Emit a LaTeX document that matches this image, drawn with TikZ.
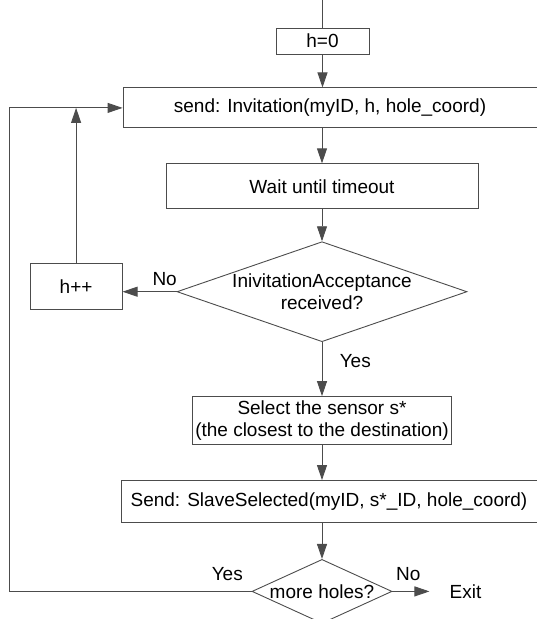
\documentclass[tikz,border=0pt]{standalone}
\usepackage{fontspec}
\setmainfont{Liberation Sans}
\usetikzlibrary{positioning, arrows.meta, shapes.geometric}
\tikzset{
  box/.style={draw=black!70, line width=0.9pt, rectangle, inner sep=3pt, align=center},
  decision/.style={draw=black!70, line width=0.9pt, diamond, inner sep=0pt, align=center},
  link/.style={draw=black!70, line width=0.9pt},
  flow/.style={link, -{Triangle[length=15pt,width=10pt]}}
}
\begin{document}
\begin{tikzpicture}[x=1pt, y=-1pt, node distance=35pt, font=\fontsize{19}{21.5}\selectfont]
\useasboundingbox (0,0) rectangle (536,619);
\coordinate (top) at (322.5,0);
\coordinate (left) at (9.5,0);
\node[box, minimum width=93pt, minimum height=26pt] (h0) at (322.5,41) {h=0};
\node[box, minimum width=414pt, minimum height=40pt, below=33pt of h0, xshift=7.5pt] (invite) {send: Invitation(myID, h, hole\_coord)};
\node[box, minimum width=312pt, minimum height=45pt, below=of invite, xshift=-8pt] (wait) {Wait until timeout};
\node[decision, aspect=2.9, minimum width=290pt, minimum height=100pt, below=32pt of wait] (accept) {InivitationAcceptance\\received?};
\node[box, minimum width=92pt, minimum height=46pt, left=54pt of accept, yshift=5pt] (inc) {h++};
\node[box, minimum width=258pt, minimum height=48pt, below=54pt of accept] (select) {Select the sensor s*\\(the closest to the destination)};
\node[box, minimum width=416pt, minimum height=42pt, below=of select, xshift=7pt] (slave) {Send: SlaveSelected(myID, s*\_ID, hole\_coord)};
\node[decision, aspect=2.2, minimum width=140pt, minimum height=64pt, below=36pt of slave, xshift=-7pt] (more) {more holes?};
\node[inner xsep=20pt, right=37pt of more] (exit) {Exit};
\draw[link] (top) -- (h0);
\draw[flow] (h0) -- (h0 |- invite.north);
\draw[flow] (wait.north |- invite.south) -- (wait);
\draw[flow] (wait) -- (accept);
\draw[flow] (accept.west) -- node[above=2pt, pos=.22] {No} (accept.west -| inc.east);
\draw[flow] (inc) -- (inc |- invite.west);
\draw[flow] (accept) -- node[right=14pt, pos=.35] {Yes} (select);
\draw[flow] (select) -- (select |- slave.north);
\draw[flow] (more |- slave.south) -- (more);
\draw[flow] (more.west) -- node[pos=0, above left=7pt and 5pt] {Yes} (more.west -| left) |- (invite.west);
\draw[flow] (more) -- node[pos=0, above right=7pt and 0pt] {No} (exit);
\end{tikzpicture}
\end{document}
